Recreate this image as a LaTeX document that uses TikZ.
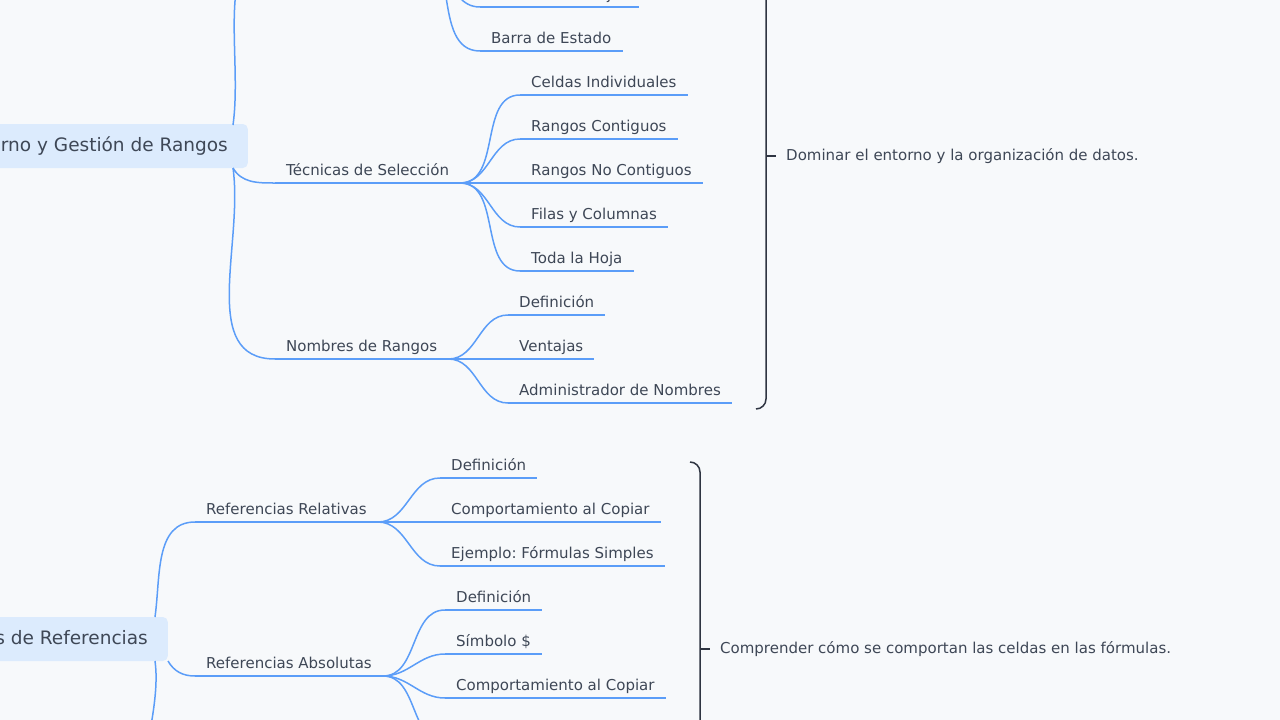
\documentclass[tikz,border=0pt]{standalone}
\usepackage{fontspec}
\setmainfont{DejaVu Sans}
\frenchspacing
\definecolor{bgc}{HTML}{F7F9FB}
\definecolor{linkc}{HTML}{5B9DF8}
\definecolor{txtc}{HTML}{3E4756}
\definecolor{rootc}{HTML}{DCEBFD}
\definecolor{bracec}{HTML}{2F3542}
\tikzset{
  link/.style={draw=linkc,line width=1.5pt},
  item/.style={anchor=south west,inner xsep=11pt,inner ysep=7pt,text depth=0pt,
    text=txtc,font=\fontsize{15}{17}\selectfont},
  root/.style={fill=rootc,rounded corners=5pt,text=txtc,inner xsep=20pt,
    minimum height=44pt,font=\fontsize{18.5}{20}\selectfont},
  brace/.style={draw=bracec,line width=1.5pt},
  note/.style={anchor=west,text=txtc,inner sep=0pt,font=\fontsize{15}{17}\selectfont},
}
\begin{document}
\begin{tikzpicture}[x=1pt,y=-1pt]
\useasboundingbox[fill=bgc] (0,0) rectangle (1280,720);
\clip (0,0) rectangle (1280,720);

% first main topic
\node[root,anchor=east] (entorno) at (248,146) {Interfaz del Entorno y Gestión de Rangos};
\coordinate (entA) at (233,125);
\coordinate (entB) at (233,168);

% upper group (mostly off the page)
\node[item] (interfaz) at (285,-60) {Componentes};
\node[item] (hojas) at (480,7) {Pestañas de Hojas};
\node[item] (barra) at (480,51) {Barra de Estado};

% selection techniques
\node[item] (tecnicas) at (275,183) {Técnicas de Selección};
\node[item] (celdas) at (520,95) {Celdas Individuales};
\node[item] (contig) at (520,139) {Rangos Contiguos};
\node[item] (nocontig) at (520,183) {Rangos No Contiguos};
\node[item] (filas) at (520,227) {Filas y Columnas};
\node[item] (hoja) at (520,271) {Toda la Hoja};

% range names
\node[item] (nombres) at (275,359) {Nombres de Rangos};
\node[item] (defn) at (508,315) {Definición};
\node[item] (ventajas) at (508,359) {Ventajas};
\node[item] (admin) at (508,403) {Administrador de Nombres};

% underlines
\foreach \n in {interfaz,hojas,barra,tecnicas,celdas,contig,nocontig,filas,hoja,nombres,defn,ventajas,admin}
  \draw[link] (\n.south west) -- (\n.south east);

\draw[link] (entA) to[out=82,in=180] (interfaz.south west);
\draw[link] (entB) to[out=-60,in=180] (tecnicas.south west);
\draw[link] (entB) to[out=-82,in=180] (nombres.south west);
\foreach \n in {hojas,barra}
  \draw[link] (interfaz.south east) to[out=0,in=180] (\n.south west);
\foreach \n in {celdas,contig,nocontig,filas,hoja}
  \draw[link] (tecnicas.south east) to[out=0,in=180] (\n.south west);
\foreach \n in {defn,ventajas,admin}
  \draw[link] (nombres.south east) to[out=0,in=180] (\n.south west);

% bracket 1
\coordinate (b1top) at (766,-30);
\coordinate (b1bot) at (756,409);
\coordinate (b1mid) at (766,156);
\draw[brace] (b1top) -- (766,399) to[out=-90,in=0] (b1bot);
\draw[brace] (b1mid) -- ++(10,0) coordinate (b1tip);
\node[note] (goal1) at ([xshift=10pt]b1tip) {Dominar el entorno y la organización de datos.};

% second main topic
\node[root,anchor=east] (refs) at (168,639) {Tipos de Referencias};
\coordinate (refA) at (155,617);
\coordinate (refB) at (168,661);
\coordinate (refC) at (155,661);

\node[item] (relat) at (195,522) {Referencias Relativas};
\node[item] (rdef) at (440,478) {Definición};
\node[item] (rcomp) at (440,522) {Comportamiento al Copiar};
\node[item] (rejem) at (440,566) {Ejemplo: Fórmulas Simples};

\node[item] (absol) at (195,676) {Referencias Absolutas};
\node[item] (adef) at (445,610) {Definición};
\node[item] (asimb) at (445,654) {Símbolo \$};
\node[item] (acomp) at (445,698) {Comportamiento al Copiar};
\node[item] (aejem) at (445,742) {Ejemplo};

\foreach \n in {relat,rdef,rcomp,rejem,absol,adef,asimb,acomp,aejem}
  \draw[link] (\n.south west) -- (\n.south east);

\coordinate (mixtas) at (175,830);
\draw[link] (refA) to[out=82,in=180] (relat.south west);
\draw[link] (refB) to[out=-60,in=180] (absol.south west);
\draw[link] (refC) to[out=-82,in=180] (mixtas);
\foreach \n in {rdef,rcomp,rejem}
  \draw[link] (relat.south east) to[out=0,in=180] (\n.south west);
\foreach \n in {adef,asimb,acomp,aejem}
  \draw[link] (absol.south east) to[out=0,in=180] (\n.south west);

% bracket 2
\coordinate (b2top) at (690,462);
\coordinate (b2mid) at (700,649);
\draw[brace] (b2top) to[out=0,in=90] (700,472) -- (700,760);
\draw[brace] (b2mid) -- ++(10,0) coordinate (b2tip);
\node[note] (goal2) at ([xshift=10pt]b2tip) {Comprender cómo se comportan las celdas en las fórmulas.};
\end{tikzpicture}
\end{document}
